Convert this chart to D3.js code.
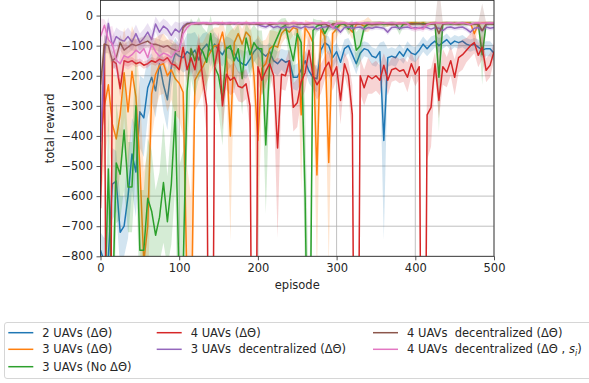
<!DOCTYPE html>
<html>
<head>
<meta charset="utf-8">
<script src="https://cdn.jsdelivr.net/npm/d3@7"></script>
<style>
  body { margin: 0; background: #fff; }
  svg text { font-family: "DejaVu Sans", sans-serif; }
</style>
</head>
<body>
<svg id="chart" width="589" height="383"></svg>
<script>
// episodes sampled every 5
const episodes = d3.range(0, 505, 5);
const xTicks = [0, 100, 200, 300, 400, 500];
const yTicks = [-800, -700, -600, -500, -400, -300, -200, -100, 0];

const labels = [
  '2 UAVs (ΔΘ)',
  '3 UAVs (ΔΘ)',
  '3 UAVs (No ΔΘ)',
  '4 UAVs (ΔΘ)',
  '3 UAVs  decentralized (ΔΘ)',
  '4 UAVs  decentralized (ΔΘ)',
  '4 UAVs  decentralized (ΔΘ , s'
];
const colors = ['#1f77b4', '#ff7f0e', '#2ca02c', '#d62728', '#9467bd', '#8c564b', '#e377c2'];

const blue = [-780,-820,-800,-560,-550,-720,-700,-600,-460,-520,
  -320,-340,-240,-205,-250,-160,-230,-280,-170,-125,
  -135,-140,-120,-130,-115,-148,-110,-95,-120,-95,
  -115,-130,-105,-110,-125,-150,-160,-165,-145,-120,
  -105,-125,-135,-120,-150,-160,-145,-155,-150,-205,
  -205,-180,-150,-185,-205,-210,-115,-90,-100,-140,
  -120,-155,-110,-100,-130,-160,-125,-110,-115,-135,
  -140,-120,-415,-140,-135,-140,-120,-135,-110,-125,
  -130,-115,-95,-110,-95,-85,-100,-90,-80,-95,
  -85,-90,-85,-95,-100,-95,-105,-115,-110,-110,
  -125];
const blueStd = [60,80,150,120,100,120,100,140,120,150,
  120,130,100,80,90,70,90,100,70,50,
  40,50,60,70,60,70,50,40,50,40,
  40,40,35,35,40,40,45,45,40,35,
  30,30,35,30,40,40,35,40,35,40,
  45,40,35,40,40,45,30,25,30,35,
  30,35,30,25,30,35,30,25,25,30,
  30,30,330,30,30,30,25,25,25,25,
  25,25,25,25,25,20,25,20,20,20,
  20,20,20,20,20,20,25,25,25,25,
  25];

const orange = [-420,-300,-230,-360,-410,-330,-190,-320,-185,-270,
  -500,-820,-700,-260,-195,-165,-160,-200,-180,-210,
  -225,-255,-900,-1100,-215,-190,-170,-143,-120,-100,
  -100,-55,-130,-400,-90,-60,-95,-55,-70,-200,
  -415,-175,-160,-110,-100,-105,-60,-45,-55,-40,
  -45,-330,-40,-60,-90,-530,-45,-70,-488,-60,
  -45,-30,-28,-40,-55,-30,-28,-35,-30,-28,
  -30,-26,-28,-30,-26,-28,-25,-30,-26,-24,
  -25,-26,-24,-28,-25,-24,-26,-25,-24,-26,
  -25,-28,-26,-24,-25,-60,-28,-25,-24,-26,
  -25];
const orangeStd = [200,200,150,200,200,200,150,200,150,200,
  250,300,250,150,120,100,100,120,100,120,
  120,150,400,500,100,100,80,80,70,60,
  60,40,60,350,50,40,50,40,40,100,
  350,90,80,60,50,50,35,30,30,25,
  25,250,25,40,60,350,30,50,350,40,
  30,15,10,15,25,10,10,20,25,10,
  10,8,8,8,6,8,6,8,6,6,
  6,6,6,8,6,6,6,6,6,6,
  6,8,6,6,6,40,8,6,6,6,
  6];

const green = [-1000,-1000,-510,-1000,-490,-527,-380,-570,-570,-300,
  -780,-780,-607,-650,-730,-670,-555,-685,-560,-320,
  -900,-850,-250,-110,-150,-105,-120,-155,-60,-170,
  -200,-282,-110,-100,-150,-110,-210,-75,-130,-90,
  -110,-110,-430,-150,-100,-70,-40,-33,-95,-150,
  -60,-90,-600,-1500,-50,-35,-30,-60,-35,-30,
  -40,-28,-30,-45,-30,-115,-100,-40,-28,-30,
  -28,-26,-30,-28,-26,-28,-45,-28,-26,-28,
  -26,-28,-26,-30,-28,-26,-205,-28,-26,-28,
  -26,-28,-26,-28,-26,-28,-28,-130,-28,-26,
  -28];
const greenStd = [150,150,200,150,200,150,200,150,150,200,
  200,200,200,200,150,150,200,150,200,250,
  400,400,200,100,120,100,80,100,60,100,
  120,150,80,70,100,80,120,50,80,60,
  60,60,230,100,60,50,30,25,60,80,
  40,60,300,500,40,20,15,30,20,15,
  20,10,10,20,15,60,60,20,10,10,
  10,8,10,8,8,8,20,8,8,8,
  8,8,8,10,8,8,180,8,8,8,
  8,8,8,8,8,8,8,100,8,8,
  8];

const red = [-640,-95,-2500,-150,-160,-243,-150,-155,-150,-160,
  -155,-165,-160,-150,-155,-145,-150,-140,-160,-165,
  -180,-105,-180,-140,-180,-100,-210,-300,-2500,-170,
  -95,-300,-195,-215,-205,-235,-240,-227,-300,-2500,
  -170,-215,-185,-160,-200,-440,-195,-200,-150,-305,
  -290,-220,-190,-115,-200,-230,-210,-175,-155,-200,
  -170,-282,-160,-200,-330,-2500,-200,-240,-200,-210,
  -200,-215,-165,-215,-180,-175,-185,-180,-205,-160,
  -195,-170,-2500,-330,-305,-160,-282,-170,-188,-150,
  -205,-140,-130,-115,-100,-90,-132,-105,-182,-165,
  -120];
const redStd = [100,60,600,20,20,30,15,15,12,12,
  12,12,12,12,12,12,12,12,12,12,
  15,40,50,40,50,40,60,100,700,50,
  40,80,50,50,50,50,50,50,80,700,
  50,50,40,40,50,300,50,50,40,80,
  80,60,60,50,50,50,50,40,40,50,
  40,80,40,50,100,700,60,60,60,50,
  50,50,40,50,40,40,40,40,50,40,
  40,40,800,150,130,40,60,60,50,50,
  60,50,50,40,40,35,40,40,40,40,
  30];

const purple = [-420,-120,-26,-100,-70,-80,-85,-70,-88,-60,
  -90,-75,-55,-80,-28,-55,-35,-45,-66,-45,
  -55,-35,-26,-25,-24,-28,-26,-25,-28,-26,
  -25,-28,-26,-24,-28,-25,-27,-26,-28,-25,
  -30,-35,-38,-32,-40,-36,-42,-38,-40,-35,
  -38,-42,-36,-40,-38,-45,-40,-38,-36,-40,
  -42,-55,-40,-38,-42,-40,-38,-45,-40,-42,
  -38,-40,-42,-55,-40,-38,-42,-40,-38,-42,
  -40,-42,-38,-40,-45,-40,-42,-50,-40,-38,
  -42,-40,-38,-45,-55,-42,-40,-50,-38,-42,
  -40];
const purpleStd = [150,60,20,30,30,30,30,30,30,30,
  30,30,30,30,25,30,25,25,30,25,
  30,15,8,6,6,6,6,6,6,6,
  6,6,6,6,6,6,6,6,6,6,
  8,8,8,8,8,8,8,8,8,8,
  8,8,8,8,8,8,8,8,8,8,
  8,10,8,8,8,8,8,8,8,8,
  8,8,8,10,8,8,8,8,8,8,
  8,8,8,8,8,8,8,10,8,8,
  8,8,8,8,10,8,8,8,8,8,
  8];

const brown = [-230,-95,-100,-150,-140,-90,-115,-105,-95,-100,
  -95,-90,-85,-95,-95,-100,-105,-100,-110,-115,
  -118,-40,-28,-26,-28,-27,-26,-28,-27,-26,
  -28,-26,-27,-28,-26,-27,-28,-26,-27,-28,
  -27,-28,-26,-30,-28,-27,-26,-28,-27,-26,
  -28,-27,-30,-28,-26,-28,-30,-27,-35,-28,
  -27,-28,-26,-28,-30,-27,-28,-26,-28,-30,
  -28,-27,-26,-28,-30,-28,-27,-26,-28,-27,
  -28,-26,-30,-28,-27,-28,-60,-28,-27,-26,
  -28,-27,-26,-28,-30,-28,-27,-50,-28,-27,
  -28];
const brownStd = [80,30,25,30,30,25,20,20,20,20,
  20,20,20,20,20,20,20,20,20,20,
  20,15,6,5,5,5,5,5,5,5,
  5,5,5,5,5,5,5,5,5,5,
  5,5,5,5,5,5,5,5,5,5,
  5,5,5,5,5,5,5,5,15,5,
  5,5,5,5,5,5,5,5,5,5,
  5,5,5,5,5,5,5,5,5,5,
  5,5,5,5,5,5,160,5,5,5,
  5,5,5,5,5,5,5,90,5,5,
  5];

const pink = [-70,-32,-80,-95,-148,-160,-133,-140,-130,-115,
  -125,-110,-140,-95,-120,-135,-125,-130,-140,-120,
  -115,-60,-40,-28,-26,-25,-24,-25,-26,-24,
  -25,-24,-26,-25,-24,-26,-25,-24,-25,-26,
  -24,-25,-26,-24,-25,-26,-24,-25,-26,-24,
  -25,-24,-26,-25,-24,-26,-25,-24,-25,-40,
  -26,-25,-24,-26,-25,-24,-26,-25,-24,-26,
  -25,-24,-26,-25,-24,-26,-25,-24,-26,-40,
  -45,-40,-45,-30,-26,-25,-24,-26,-25,-24,
  -26,-25,-24,-26,-30,-25,-24,-26,-25,-24,
  -25];
const pinkStd = [60,20,40,60,60,50,40,40,40,35,
  35,35,40,35,35,35,30,30,35,30,
  35,25,10,5,5,5,5,5,5,5,
  5,5,5,5,5,5,5,5,5,5,
  5,5,5,5,5,5,5,5,5,5,
  5,5,5,5,5,5,5,5,5,10,
  5,5,5,5,5,5,5,5,5,5,
  5,5,5,5,5,5,5,5,5,10,
  10,10,10,8,5,5,5,5,5,5,
  5,5,5,5,8,5,5,5,5,5,
  5];

const means = [blue, orange, green, red, purple, brown, pink];
const stds = [blueStd, orangeStd, greenStd, redStd, purpleStd, brownStd, pinkStd];

const margin = { top: 0.5, right: 95, bottom: 126.7, left: 100.5 };
const width = 589, height = 383;
const fontSize = 11.5;

const svg = d3.select('#chart');

const x = d3.scaleLinear().domain([0, 500]).range([margin.left, width - margin.right]);
const y = d3.scaleLinear().domain([-800, 50]).range([height - margin.bottom, margin.top]);

svg.append('defs').append('clipPath').attr('id', 'plot')
  .append('rect')
  .attr('x', x(0)).attr('y', y(50))
  .attr('width', x(500) - x(0)).attr('height', y(-800) - y(50));

// grid
const grid = svg.append('g').attr('stroke', '#b0b0b0').attr('stroke-width', 0.8);
grid.selectAll('line.v').data(xTicks).join('line')
  .attr('x1', d => x(d)).attr('x2', d => x(d))
  .attr('y1', y(50)).attr('y2', y(-800));
grid.selectAll('line.h').data(yTicks).join('line')
  .attr('x1', x(0)).attr('x2', x(500))
  .attr('y1', d => y(d)).attr('y2', d => y(d));

const plot = svg.append('g').attr('clip-path', 'url(#plot)');

means.forEach((m, k) => {
  const rows = episodes.map((e, i) => ({ e, m: m[i], s: stds[k][i] }));
  const area = d3.area()
    .x(d => x(d.e))
    .y0(d => y(d.m - d.s))
    .y1(d => y(d.m + d.s));
  const line = d3.line().x(d => x(d.e)).y(d => y(d.m));
  plot.append('path')
    .attr('d', area(rows))
    .attr('fill', colors[k])
    .attr('fill-opacity', 0.2);
  plot.append('path')
    .attr('d', line(rows))
    .attr('fill', 'none')
    .attr('stroke', colors[k])
    .attr('stroke-width', 1.5)
    .attr('stroke-linejoin', 'round');
});

// axes
const xAxis = svg.append('g')
  .attr('transform', `translate(0,${y(-800)})`)
  .call(d3.axisBottom(x).tickValues(xTicks).tickSize(4).tickPadding(3.5).tickSizeOuter(0));
const yAxis = svg.append('g')
  .attr('transform', `translate(${x(0)},0)`)
  .call(d3.axisLeft(y).tickValues(yTicks).tickSize(4).tickPadding(3.5).tickSizeOuter(0));

[xAxis, yAxis].forEach(a => {
  a.select('.domain').remove();
  a.selectAll('text').attr('font-size', fontSize).attr('fill', '#262626')
    .attr('font-family', '"DejaVu Sans", sans-serif');
  a.selectAll('line').attr('stroke', '#262626').attr('stroke-width', 0.8);
});

svg.append('rect')
  .attr('x', x(0)).attr('y', y(50))
  .attr('width', x(500) - x(0)).attr('height', y(-800) - y(50))
  .attr('fill', 'none').attr('stroke', '#262626').attr('stroke-width', 0.8);

svg.append('text')
  .attr('x', (x(0) + x(500)) / 2).attr('y', 288.5)
  .attr('text-anchor', 'middle')
  .attr('font-size', fontSize).attr('fill', '#262626')
  .text('episode');

svg.append('text')
  .attr('transform', `translate(54,${(y(50) + y(-800)) / 2}) rotate(-90)`)
  .attr('text-anchor', 'middle')
  .attr('font-size', fontSize).attr('fill', '#262626')
  .text('total reward');

// legend, column-major like matplotlib ncol=3
const legCols = [8.3, 156.7, 373];
const legRows = [332.7, 349.3, 366.7];
const slots = [[0, 0], [0, 1], [0, 2], [1, 0], [1, 1], [2, 0], [2, 1]];

svg.append('rect')
  .attr('x', 4.5).attr('y', 322.5)
  .attr('width', 620).attr('height', 56)
  .attr('rx', 2.5)
  .attr('fill', '#fff').attr('fill-opacity', 0.8)
  .attr('stroke', '#cccccc').attr('stroke-width', 0.8);

const item = svg.append('g').selectAll('g')
  .data(labels)
  .join('g')
  .attr('transform', (d, i) => `translate(${legCols[slots[i][0]]},${legRows[slots[i][1]]})`);

item.append('line')
  .attr('x1', 0).attr('x2', 25)
  .attr('stroke', (d, i) => colors[i])
  .attr('stroke-width', 1.5);

const lt = item.append('text')
  .attr('x', 34).attr('dy', '0.35em')
  .attr('font-size', fontSize).attr('fill', '#262626')
  .style('white-space', 'pre')
  .text(d => d);

lt.filter((d, i) => i === 6).each(function () {
  const t = d3.select(this);
  t.text(null);
  t.append('tspan').text('4 UAVs  decentralized (ΔΘ , ');
  t.append('tspan').attr('font-style', 'italic').text('s');
  t.append('tspan').attr('font-style', 'italic').attr('font-size', fontSize * 0.7).attr('dy', 3).text('i');
  t.append('tspan').attr('dy', -3).text(')');
});
</script>
</body>
</html>
